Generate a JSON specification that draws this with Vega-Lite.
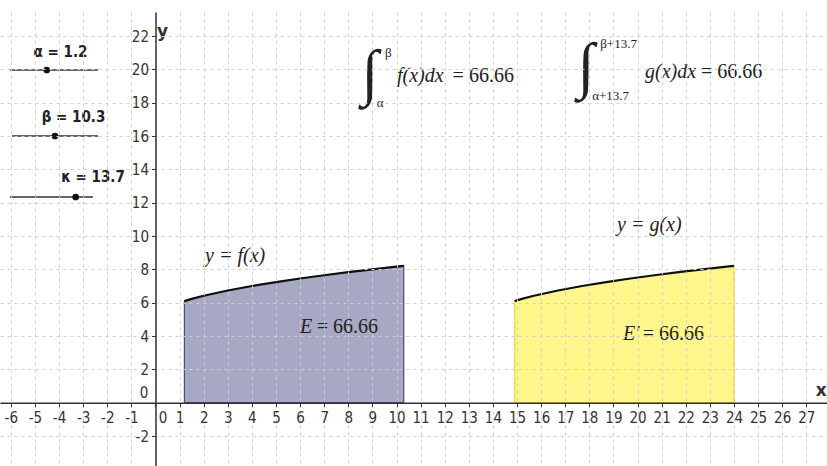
{
  "$schema": "https://vega.github.io/schema/vega-lite/v6.json",
  "width": 827,
  "height": 454,
  "autosize": {"type": "none"},
  "padding": {"top": 12, "left": 0, "right": 0, "bottom": 0},
  "background": "white",
  "config": {
    "view": {"stroke": null},
    "axis": {"labelOverlap": false, "labelBound": false, "labelFlush": false}
  },
  "datasets": {
    "curves": [
      {"curve": "f", "x": 1.2, "y": 6.095},
      {"curve": "f", "x": 1.5, "y": 6.225},
      {"curve": "f", "x": 2, "y": 6.414},
      {"curve": "f", "x": 3, "y": 6.732},
      {"curve": "f", "x": 4, "y": 7.0},
      {"curve": "f", "x": 5, "y": 7.236},
      {"curve": "f", "x": 6, "y": 7.449},
      {"curve": "f", "x": 7, "y": 7.646},
      {"curve": "f", "x": 8, "y": 7.828},
      {"curve": "f", "x": 9, "y": 8.0},
      {"curve": "f", "x": 10, "y": 8.162},
      {"curve": "f", "x": 10.3, "y": 8.209},
      {"curve": "g", "x": 14.9, "y": 6.095},
      {"curve": "g", "x": 15.2, "y": 6.225},
      {"curve": "g", "x": 15.7, "y": 6.414},
      {"curve": "g", "x": 16.7, "y": 6.732},
      {"curve": "g", "x": 17.7, "y": 7.0},
      {"curve": "g", "x": 18.7, "y": 7.236},
      {"curve": "g", "x": 19.7, "y": 7.449},
      {"curve": "g", "x": 20.7, "y": 7.646},
      {"curve": "g", "x": 21.7, "y": 7.828},
      {"curve": "g", "x": 22.7, "y": 8.0},
      {"curve": "g", "x": 23.7, "y": 8.162},
      {"curve": "g", "x": 24.0, "y": 8.209}
    ],
    "sliders": [
      {"label": "α = 1.2", "x1": -6.04, "x2": -2.39, "level": 19.96, "knob": -4.51, "lx": -3.94, "ly": 21.04},
      {"label": "β = 10.3", "x1": -5.95, "x2": -2.39, "level": 16.0, "knob": -4.17, "lx": -3.4, "ly": 17.14},
      {"label": "κ = 13.7", "x1": -6.04, "x2": -2.59, "level": 12.34, "knob": -3.31, "lx": -2.59, "ly": 13.54}
    ],
    "axisNames": [
      {"t": "x", "x": 27.62, "y": 0.72},
      {"t": "y", "x": 0.29, "y": 22.26}
    ],
    "origin": [
      {"t": "0", "x": 0.31, "y": -0.93},
      {"t": "0", "x": -0.47, "y": 0.58}
    ],
    "mathItalic": [
      {"t": "y = f(x)", "x": 2.06, "y": 8.8},
      {"t": "y = g(x)", "x": 19.15, "y": 10.66},
      {"t": "f(x)dx", "x": 10.02, "y": 19.6},
      {"t": "g(x)dx", "x": 20.31, "y": 19.84},
      {"t": "E", "x": 6.0, "y": 4.54},
      {"t": "E′", "x": 19.4, "y": 4.12}
    ],
    "mathValues": [
      {"t": "= 66.66", "x": 14.87, "y": 19.6},
      {"t": "= 66.66", "x": 25.17, "y": 19.84},
      {"t": "= 66.66", "x": 9.23, "y": 4.54},
      {"t": "= 66.66", "x": 22.76, "y": 4.12}
    ],
    "integrals": [
      {"t": "∫", "x": 8.9, "y": 19.7},
      {"t": "∫", "x": 17.86, "y": 20.14}
    ],
    "limits": [
      {"t": "β", "x": 9.52, "y": 21.0},
      {"t": "α", "x": 9.18, "y": 17.98},
      {"t": "β+13.7", "x": 18.45, "y": 21.5},
      {"t": "α+13.7", "x": 18.12, "y": 18.42}
    ]
  },
  "layer": [
    {
      "data": {"name": "curves"},
      "mark": {"type": "area", "fillOpacity": 0.45, "strokeWidth": 1.2},
      "encoding": {
        "x": {
          "field": "x",
          "type": "quantitative",
          "scale": {"domain": [-6.45, 27.86], "nice": false, "zero": false},
          "axis": {
            "orient": "bottom",
            "offset": -63.3,
            "title": null,
            "tickCount": 34,
            "format": "d",
            "values": [-6, -5, -4, -3, -2, -1, 0, 1, 2, 3, 4, 5, 6, 7, 8, 9, 10, 11, 12, 13, 14, 15, 16, 17, 18, 19, 20, 21, 22, 23, 24, 25, 26, 27],
            "labelExpr": "datum.value === 0 ? '' : '' + datum.value",
            "grid": true,
            "gridColor": "#cfcfcf",
            "gridDash": [3, 4],
            "gridWidth": 1,
            "domainColor": "#333333",
            "domainWidth": 1.5,
            "tickColor": "#333333",
            "tickSize": 4,
            "labelFont": "DejaVu Sans Condensed, Liberation Sans Narrow, Liberation Sans, sans-serif",
            "labelFontSize": 15,
            "labelColor": "#333333",
            "labelPadding": 4,
            "labelFlush": false,
            "labelOverlap": false,
            "zindex": 1
          }
        },
        "y": {
          "field": "y",
          "type": "quantitative",
          "stack": null,
          "scale": {"domain": [-3.8, 23.44], "nice": false, "zero": false},
          "axis": {
            "orient": "left",
            "offset": -155.5,
            "title": null,
            "tickCount": 13,
            "format": "d",
            "values": [-2, 0, 2, 4, 6, 8, 10, 12, 14, 16, 18, 20, 22],
            "labelExpr": "datum.value === 0 ? '' : '' + datum.value",
            "grid": true,
            "gridColor": "#cfcfcf",
            "gridDash": [3, 4],
            "gridWidth": 1,
            "domainColor": "#333333",
            "domainWidth": 1.5,
            "tickColor": "#333333",
            "tickSize": 4,
            "labelFont": "DejaVu Sans Condensed, Liberation Sans Narrow, Liberation Sans, sans-serif",
            "labelFontSize": 15,
            "labelColor": "#333333",
            "labelPadding": 3,
            "labelFlush": false,
            "labelOverlap": false,
            "zindex": 1
          }
        },
        "y2": {"datum": 0},
        "fill": {"field": "curve", "type": "nominal", "scale": {"domain": ["f", "g"], "range": ["#3c3f7a", "#ffee00"]}, "legend": null},
        "stroke": {"field": "curve", "type": "nominal", "scale": {"domain": ["f", "g"], "range": ["#4b4d72", "#efd83a"]}, "legend": null}
      }
    },
    {
      "data": {"name": "curves"},
      "mark": {"type": "line", "color": "#111111", "strokeWidth": 2.2},
      "encoding": {
        "x": {"field": "x", "type": "quantitative"},
        "y": {"field": "y", "type": "quantitative"},
        "detail": {"field": "curve", "type": "nominal"}
      }
    },
    {
      "mark": {"type": "rule", "color": "#b3b3b3", "strokeWidth": 1},
      "encoding": {"y": {"datum": 23.44}}
    },
    {
      "mark": {"type": "point", "shape": "M-1,1L0,0L1,1", "filled": false, "stroke": "#333333", "strokeWidth": 1.5, "size": 50, "opacity": 1},
      "encoding": {"x": {"datum": 0}, "y": {"datum": 23.33}}
    },
    {
      "data": {"name": "origin"},
      "mark": {"type": "text", "font": "DejaVu Sans Condensed, Liberation Sans Narrow, Liberation Sans, sans-serif", "fontSize": 15, "color": "#333333", "align": "center", "baseline": "middle"},
      "encoding": {
        "x": {"field": "x", "type": "quantitative"},
        "y": {"field": "y", "type": "quantitative"},
        "text": {"field": "t"}
      }
    },
    {
      "data": {"name": "axisNames"},
      "mark": {"type": "text", "font": "DejaVu Sans, Liberation Sans, sans-serif", "fontWeight": "bold", "fontSize": 17, "color": "#333333", "align": "center", "baseline": "middle"},
      "encoding": {
        "x": {"field": "x", "type": "quantitative"},
        "y": {"field": "y", "type": "quantitative"},
        "text": {"field": "t"}
      }
    },
    {
      "data": {"name": "sliders"},
      "mark": {"type": "rule", "color": "#333333", "strokeWidth": 1.5},
      "encoding": {
        "x": {"field": "x1", "type": "quantitative"},
        "x2": {"field": "x2"},
        "y": {"field": "level", "type": "quantitative"}
      }
    },
    {
      "data": {"name": "sliders"},
      "mark": {"type": "point", "filled": true, "color": "#111111", "size": 45, "opacity": 1},
      "encoding": {
        "x": {"field": "knob", "type": "quantitative"},
        "y": {"field": "level", "type": "quantitative"}
      }
    },
    {
      "data": {"name": "sliders"},
      "mark": {"type": "text", "font": "DejaVu Sans Condensed, Liberation Sans Narrow, Liberation Sans, sans-serif", "fontWeight": "bold", "fontSize": 15, "color": "#222222", "align": "center", "baseline": "middle"},
      "encoding": {
        "x": {"field": "lx", "type": "quantitative"},
        "y": {"field": "ly", "type": "quantitative"},
        "text": {"field": "label"}
      }
    },
    {
      "data": {"name": "mathItalic"},
      "mark": {"type": "text", "font": "Liberation Serif", "fontStyle": "italic", "fontSize": 20, "color": "#222222", "align": "left", "baseline": "middle"},
      "encoding": {
        "x": {"field": "x", "type": "quantitative"},
        "y": {"field": "y", "type": "quantitative"},
        "text": {"field": "t"}
      }
    },
    {
      "data": {"name": "mathValues"},
      "mark": {"type": "text", "font": "Liberation Serif", "fontSize": 20, "color": "#222222", "align": "right", "baseline": "middle"},
      "encoding": {
        "x": {"field": "x", "type": "quantitative"},
        "y": {"field": "y", "type": "quantitative"},
        "text": {"field": "t"}
      }
    },
    {
      "data": {"name": "integrals"},
      "mark": {"type": "text", "font": "Liberation Serif", "fontSize": 62, "color": "#222222", "align": "center", "baseline": "middle"},
      "encoding": {
        "x": {"field": "x", "type": "quantitative"},
        "y": {"field": "y", "type": "quantitative"},
        "text": {"field": "t"}
      }
    },
    {
      "data": {"name": "limits"},
      "mark": {"type": "text", "font": "Liberation Serif", "fontSize": 13, "color": "#222222", "align": "left", "baseline": "middle"},
      "encoding": {
        "x": {"field": "x", "type": "quantitative"},
        "y": {"field": "y", "type": "quantitative"},
        "text": {"field": "t"}
      }
    }
  ]
}
